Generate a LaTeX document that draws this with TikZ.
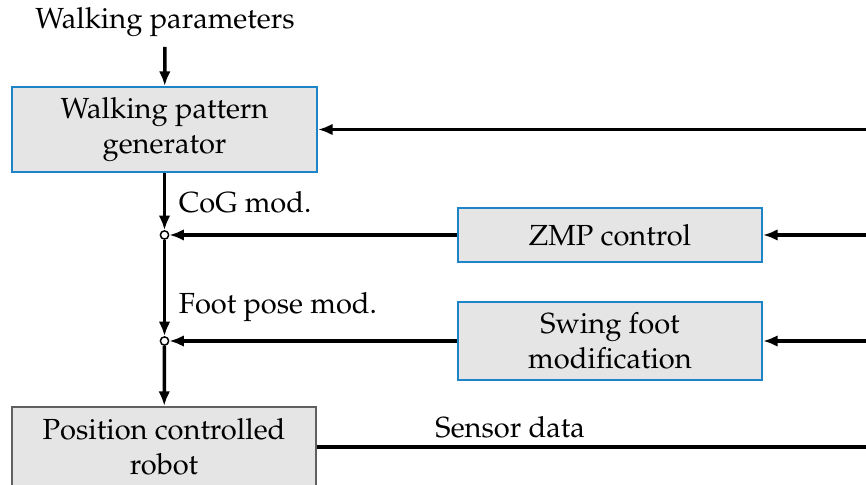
\documentclass[tikz,border=0pt]{standalone}
\usepackage[T1]{fontenc}
\usepackage{mathpazo}
\usetikzlibrary{arrows.meta}

\definecolor{blockblue}{RGB}{30,132,200}

\tikzset{
  block/.style={draw=blockblue, fill=gray!20, line width=0.75pt, align=center, inner sep=0pt},
  plant/.style={block, draw=gray!75!black},
  junction/.style={circle, draw, fill=white, line width=0.5pt, inner sep=0pt, minimum size=0.1cm},
  sig/.style={line width=1.2pt, -{Latex[length=5pt, width=4pt]}},
}

\begin{document}
\begin{tikzpicture}
\useasboundingbox (0,0) rectangle (10.47,-5.852);

% blocks
\node (params) at (1.995,-0.266) {Walking parameters};
\node[block, minimum width=3.687cm, minimum height=1.028cm] (wpg) at (1.989,-1.566) {Walking pattern\\generator};
\node[block, minimum width=3.675cm, minimum height=0.653cm] (zmp) at (7.375,-2.841) {ZMP control};
\node[block, minimum width=3.675cm, minimum height=0.943cm] (swing) at (7.375,-4.123) {Swing foot\\modification};
\node[plant, minimum width=3.675cm, minimum height=0.967cm] (robot) at (1.983,-5.404) {Position controlled\\robot};

% summing points
\node[junction] (j1) at (wpg.south |- zmp.west) {};
\node[junction] (j2) at (wpg.south |- swing.west) {};

% right edge, where the feedback comes in
\coordinate (edge) at (10.6,0);

% forward path
\draw[sig] (params) -- (wpg);
\draw[sig] (wpg) -- (j1) node[pos=0.52, right=1pt] {CoG mod.};
\draw[sig] (j1) -- (j2) node[pos=0.7, right=1pt] {Foot pose mod.};
\draw[sig] (j2) -- (robot);

% corrections
\draw[sig] (zmp) -- (j1);
\draw[sig] (swing) -- (j2);

% feedback
\draw[line width=1.2pt] (robot.east) -- (robot.east -| edge) node[pos=0.345, above=-1pt] {Sensor data};
\draw[sig] (wpg.east -| edge) -- (wpg.east);
\draw[sig] (zmp.east -| edge) -- (zmp.east);
\draw[sig] (swing.east -| edge) -- (swing.east);
\end{tikzpicture}
\end{document}
